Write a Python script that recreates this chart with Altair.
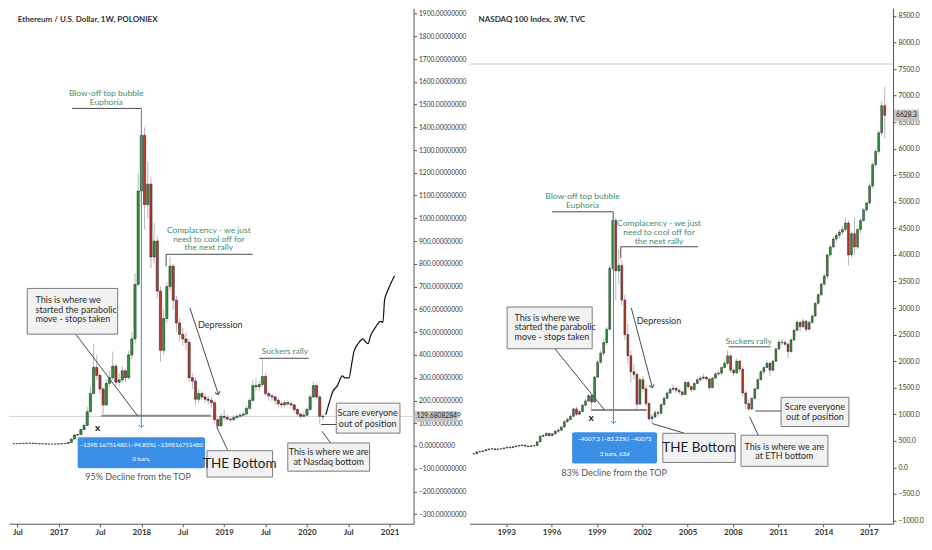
import altair as alt
import pandas as pd

# ---------------- ETH / USD, two-week candles (decimal-year time) ----------------
ETH_START, ETH_STEP = 2016.46, 0.0385
eth_close = [10, 10, 11, 11, 12, 12, 11, 10, 9, 9,
             8, 8, 8, 8, 9, 10, 11, 15, 30, 48,
             50, 72, 90, 150, 230, 345, 310, 250, 180, 275,
             300, 350, 280, 290, 330, 300, 400, 470, 710, 1120,
             1365, 1060, 1150, 830, 900, 680, 420, 560, 700, 790,
             640, 540, 490, 470, 455, 300, 285, 205, 230, 215,
             205, 200, 190, 115, 88, 130, 125, 118, 115, 125,
             130, 135, 140, 165, 200, 265, 260, 270, 305, 230,
             220, 215, 200, 185, 180, 190, 185, 180, 160, 140,
             130, 135, 160, 215, 265, 215, 130, 128]
eth_high = [11, 11, 12, 12, 13, 13, 12, 11, 10, 10,
            9, 9, 9, 9, 10, 11, 12, 17, 33, 52,
            55, 78, 98, 170, 260, 450, 400, 320, 260, 290,
            330, 415, 360, 320, 350, 340, 420, 500, 760, 1200,
            1460, 1400, 1250, 1180, 980, 920, 700, 600, 720, 830,
            800, 660, 560, 520, 500, 470, 320, 300, 250, 240,
            230, 220, 215, 200, 125, 145, 160, 135, 125, 135,
            140, 145, 150, 175, 210, 290, 300, 285, 385, 320,
            240, 230, 225, 210, 195, 200, 200, 195, 185, 165,
            145, 150, 170, 225, 285, 275, 225, 140]
eth_low = [9, 9, 10, 10, 11, 11, 10, 9, 8, 8,
           7, 7, 7, 7, 8, 9, 10, 11, 15, 30,
           42, 48, 70, 88, 150, 230, 290, 230, 140, 175,
           260, 290, 260, 260, 280, 280, 290, 380, 450, 700,
           1050, 950, 1000, 780, 800, 650, 370, 400, 540, 680,
           600, 500, 460, 440, 420, 280, 250, 180, 190, 200,
           190, 180, 170, 100, 75, 85, 110, 110, 105, 110,
           120, 125, 130, 135, 160, 195, 240, 240, 260, 220,
           200, 195, 180, 170, 165, 170, 170, 165, 145, 130,
           120, 125, 130, 155, 210, 205, 95, 110]
eth_last = 129.68082849

# hand-drawn projection curve on the ETH chart (t, value)
curve_t = [2020.23, 2020.28, 2020.31, 2020.37, 2020.43, 2020.46, 2020.51, 2020.54, 2020.57, 2020.62,
           2020.68, 2020.71, 2020.74, 2020.77, 2020.83, 2020.89, 2020.92, 2020.94, 2020.98, 2021.06]
curve_v = [137, 201, 235, 265, 308, 299, 299, 355, 415, 449,
           470, 457, 449, 483, 521, 547, 543, 641, 684, 748]

# ---------------- NASDAQ 100, sampled candles ----------------
NDX_START, NDX_STEP = 1990.85, 0.2
ndx_close = [255, 290, 300, 310, 330, 345, 350, 335, 345, 350,
             365, 380, 370, 390, 400, 410, 420, 400, 390, 405,
             410, 480, 585, 600, 640, 600, 630, 680, 700, 760,
             860, 900, 960, 1100, 1000, 1050, 1170, 1250, 1350, 1230,
             1700, 1980, 2150, 2350, 2600, 3750, 4650, 3700, 3800, 3150,
             2500, 2100, 1800, 1750, 1190, 1650, 1480, 1200, 915, 950,
             1030, 1020, 1180, 1300, 1400, 1470, 1490, 1450, 1420, 1370,
             1600, 1520, 1465, 1580, 1650, 1680, 1700, 1665, 1500, 1680,
             1760, 1775, 1880, 1960, 2100, 1830, 1780, 2000, 1850, 1400,
             1200, 1100, 1300, 1480, 1650, 1800, 1880, 1960, 1830, 2000,
             2230, 2360, 2350, 2320, 2180, 2400, 2580, 2730, 2650, 2750,
             2600, 2730, 2850, 3090, 3250, 3450, 3600, 4000, 4150, 4300,
             4370, 4430, 4480, 4600, 4000, 4400, 4150, 4480, 4650, 4850,
             4980, 5300, 5700, 5950, 6300, 6810, 6628]
ndx_high = [270, 295, 310, 320, 340, 355, 365, 355, 355, 360,
            375, 390, 390, 400, 410, 420, 440, 425, 410, 415,
            420, 490, 600, 620, 660, 650, 650, 700, 730, 780,
            880, 940, 1000, 1130, 1140, 1080, 1200, 1290, 1380, 1360,
            1720, 2020, 2200, 2420, 2650, 3800, 4800, 4700, 4100, 3900,
            3250, 2700, 2200, 1950, 1800, 1700, 1720, 1550, 1230, 1000,
            1080, 1080, 1200, 1330, 1430, 1500, 1560, 1520, 1480, 1440,
            1630, 1620, 1540, 1600, 1690, 1720, 1760, 1730, 1680, 1700,
            1790, 1820, 1900, 2000, 2200, 2120, 1880, 2050, 2030, 1900,
            1450, 1280, 1320, 1500, 1680, 1830, 1900, 2020, 1990, 2030,
            2260, 2400, 2420, 2400, 2350, 2430, 2600, 2780, 2750, 2800,
            2780, 2760, 2880, 3110, 3280, 3480, 3650, 4020, 4180, 4350,
            4420, 4480, 4550, 4700, 4650, 4450, 4700, 4500, 4700, 4880,
            5000, 5350, 5750, 6000, 6350, 6900, 7170]
ndx_low = [245, 250, 285, 295, 305, 325, 335, 320, 330, 335,
           345, 360, 355, 365, 385, 395, 400, 385, 375, 385,
           395, 405, 475, 570, 590, 570, 585, 620, 650, 680,
           750, 840, 880, 950, 960, 980, 1040, 1150, 1230, 1080,
           1220, 1680, 1950, 2100, 2300, 2580, 3700, 3150, 3450, 3050,
           2400, 1950, 1600, 1650, 1100, 1180, 1420, 1150, 880, 825,
           930, 960, 1000, 1170, 1290, 1380, 1440, 1400, 1380, 1330,
           1360, 1480, 1420, 1450, 1560, 1620, 1650, 1630, 1460, 1490,
           1670, 1730, 1740, 1860, 1920, 1780, 1720, 1760, 1800, 1330,
           1100, 1050, 1080, 1280, 1460, 1640, 1750, 1860, 1720, 1800,
           1980, 2210, 2300, 2280, 2050, 2150, 2380, 2560, 2550, 2620,
           2550, 2580, 2700, 2830, 3060, 3230, 3420, 3550, 3950, 4120,
           4250, 4300, 4380, 4450, 3800, 3950, 4000, 4100, 4400, 4620,
           4800, 4950, 5250, 5650, 5900, 6250, 6200]
ndx_last = 6628.3
ndx_ref_level = 7595

# ---------------- annotations (data coordinates) ----------------
eth_segs = [(2017.161, 1483, 2018.0, 1483), (2018.299, 842, 2019.345, 842),
            (2018.299, 842, 2018.299, 790), (2017.207, 491, 2017.954, 132),
            (2018.586, 607, 2018.931, 226), (2018.908, 85, 2019.046, -21),
            (2019.425, 385, 2020.023, 385), (2020.172, 94, 2020.356, 94),
            (2020.184, 64, 2020.287, 13)]
eth_stop = [(2017.517, 132, 2018.839, 132)]
eth_blue = [(2018.0, 1483, 2018.0, 81)]
eth_blue_head = [(2018.0, 81, 0)]
eth_dark_head = [(2018.931, 226, 341)]
eth_note_boxes = [(2016.621, 692, 2017.713, 491), (2018.793, -21, 2019.586, -137),
                  (2020.356, 188, 2021.126, 56), (2019.770, 13, 2020.759, -111)]
eth_blue_boxes = [(2017.230, 38, 2018.770, -98)]
eth_green = [(2017.575, 1551, "Blow-off top bubble"), (2017.575, 1509, "Euphoria"),
             (2018.816, 949, "Complacency - we just"), (2018.816, 910, "need to cool off for"),
             (2018.816, 872, "the next rally"), (2019.736, 419, "Suckers rally")]
eth_note_left = [(2016.72, 641, "This is where we"), (2016.72, 598, "started the parabolic"),
                 (2016.72, 556, "move - stops taken")]
eth_note_center = [(2018.954, 530, "Depression"), (2020.736, 145, "Scare everyone"),
                   (2020.736, 98, "out of position"), (2020.264, -28, "This is where we are"),
                   (2020.264, -70, "at Nasdaq bottom")]
eth_muted = [(2017.96, -137, "95% Decline from the TOP")]
eth_white = [(2018.0, 4, "\u22121398.16751480 (\u221294.85%) \u2212139816751480"), (2018.0, -56, "0 bars,")]
eth_big = [(2019.19, -79, "THE Bottom")]
eth_title = [(2016.506, 1872, "Ethereum / U.S. Dollar, 1W, POLONIEX")]
eth_x = [(2017.471, 77, "x")]

ndx_segs = [(1996.03, 4813, 2000.08, 4813), (2000.58, 4154, 2005.70, 4154),
            (2000.58, 4154, 2000.58, 3935), (1996.22, 2233, 1999.51, 1080),
            (2001.28, 3001, 2002.67, 1501), (2002.67, 824, 2004.81, 641),
            (2007.72, 2269, 2010.50, 2269), (2009.49, 1061, 2011.19, 1061),
            (2009.11, 952, 2009.68, 604)]
ndx_stop = [(1998.62, 1080, 2002.29, 1080)]
ndx_blue = [(2000.10, 4813, 2000.10, 824)]
ndx_blue_head = [(2000.10, 824, 0)]
ndx_dark_head = [(2002.67, 1501, 345)]
ndx_note_boxes = [(1993.06, 3020, 1998.69, 2233), (2003.36, 641, 2008.16, 92),
                  (2011.19, 1318, 2015.68, 769), (2008.54, 604, 2014.29, 18)]
ndx_blue_boxes = [(1997.36, 659, 2002.98, 73)]
ndx_green = [(1998.05, 5106, "Blow-off top bubble"), (1998.05, 4941, "Euphoria"),
             (2003.11, 4593, "Complacency - we just"), (2003.11, 4429, "need to cool off for"),
             (2003.11, 4270, "the next rally"), (2009.05, 2379, "Suckers rally")]
ndx_note_left = [(1993.55, 2818, "This is where we"), (1993.55, 2635, "started the parabolic"),
                 (1993.55, 2452, "move - stops taken")]
ndx_note_center = [(2003.11, 2763, "Depression"), (2013.43, 1135, "Scare everyone"),
                   (2013.43, 952, "out of position"), (2011.41, 390, "This is where we are"),
                   (2011.41, 215, "at ETH bottom")]
ndx_muted = [(2000.14, -110, "83% Decline from the TOP")]
ndx_white = [(2000.17, 531, "\u22124007.3 (\u221283.22%) \u221240073"), (2000.17, 256, "3 bars, 63d")]
ndx_big = [(2005.76, 366, "THE Bottom")]
ndx_title = [(1991.17, 8418, "NASDAQ 100 Index, 3W, TVC")]
ndx_x = [(1998.62, 933, "x")]

# ---------------- helpers ----------------
W1, W2, H = 405, 424, 516
FONT = "Lato"
GREEN_TXT = "#3f8d6a"
BLUE = "#3b8fe6"
ARROW = "M -1 -1 L 0 0 L 1 -1"


def candles(start, step, close, high, low):
    rows = []
    for i, c in enumerate(close):
        o = close[i - 1] if i > 0 else c
        rows.append(dict(t=start + step * i, o=o, c=c, h=high[i], l=low[i],
                         dir="up" if c >= o else "down"))
    return pd.DataFrame(rows)


def panel(df, xs, ys, xaxis, yaxis, W, body_w, ref_level, segs, stop, blue, bhead, dhead,
          note_boxes, blue_boxes, green, note_left, note_center, muted, white, big, title, xmark,
          last, last_txt, label_w, extra=None):
    def X(f):
        return alt.X(f, type="quantitative", scale=xs, axis=xaxis, title=None)

    def Y(f):
        return alt.Y(f, type="quantitative", scale=ys, axis=yaxis, title=None)

    def seg_layer(rows, color, width):
        d = pd.DataFrame(rows, columns=["t1", "v1", "t2", "v2"])
        return alt.Chart(d).mark_rule(color=color, strokeWidth=width).encode(
            x=X("t1"), y=Y("v1"), x2="t2:Q", y2="v2:Q")

    def box_layer(rows, fill, stroke):
        d = pd.DataFrame(rows, columns=["t1", "v1", "t2", "v2"])
        kw = dict(fill=fill)
        if stroke:
            kw.update(stroke=stroke, strokeWidth=1)
        else:
            kw.update(cornerRadius=2)
        return alt.Chart(d).mark_rect(**kw).encode(x=X("t1"), y=Y("v1"), x2="t2:Q", y2="v2:Q")

    def head_layer(rows, color):
        d = pd.DataFrame(rows, columns=["t", "v", "a"])
        return alt.Chart(d).mark_point(shape=ARROW, filled=False, size=30, strokeWidth=1,
                                       color=color, opacity=1).encode(
            x=X("t"), y=Y("v"), angle=alt.Angle("a:Q", scale=None))

    def text_layer(rows, **kw):
        d = pd.DataFrame(rows, columns=["t", "v", "label"])
        kw.setdefault("font", FONT)
        return alt.Chart(d).mark_text(baseline="middle", **kw).encode(
            x=X("t"), y=Y("v"), text="label:N")

    ref = alt.Chart(pd.DataFrame({"v": [ref_level]})).mark_rule(
        color="#d2d2d2", strokeWidth=1).encode(y=Y("v"))
    wick = alt.Chart(df).mark_rule(color="#b8b8b8", strokeWidth=1).encode(
        x=X("t"), y=Y("l"), y2="h:Q")
    body = alt.Chart(df).mark_bar(size=body_w, stroke="#161616", strokeWidth=0.5).encode(
        x=X("t"), y=Y("o"), y2="c:Q",
        color=alt.Color("dir:N", scale=alt.Scale(domain=["up", "down"],
                                                 range=["#2f9a3c", "#c0392b"]), legend=None))
    layers = [ref, wick, body,
              seg_layer(stop, "#8a8a8a", 2),
              seg_layer(segs, "#4a4a4a", 1),
              seg_layer(blue, BLUE, 1),
              head_layer(bhead, BLUE),
              head_layer(dhead, "#4a4a4a"),
              box_layer(note_boxes, "#f2f2f2", "#7a7a7a"),
              box_layer(blue_boxes, BLUE, None),
              text_layer(green, fontSize=8.5, color=GREEN_TXT, align="center"),
              text_layer(note_left, fontSize=9, color="#2b2b2b", align="left"),
              text_layer(note_center, fontSize=9, color="#2b2b2b", align="center"),
              text_layer(muted, fontSize=9, color="#555555", align="center"),
              text_layer(white, fontSize=6.1, color="#ffffff", align="center"),
              text_layer(big, fontSize=13.5, color="#1e1e1e", align="center"),
              text_layer(title, fontSize=8, color="#333333", align="left", fontWeight="bold"),
              text_layer(xmark, fontSize=10, color="#111111", align="center", fontWeight="bold")]
    if extra is not None:
        layers.append(extra(X, Y))
    pl = pd.DataFrame({"v1": [last[0]], "v2": [last[1]], "vm": [last[2]], "label": [last_txt]})
    layers.append(alt.Chart(pl).mark_rect(fill="#c4c4c4").encode(
        x=alt.value(W + 1), x2=alt.value(W + label_w), y=Y("v1"), y2="v2:Q"))
    layers.append(alt.Chart(pl).mark_text(font=FONT, fontSize=6.7, color="#222222",
                                          align="left", baseline="middle").encode(
        x=alt.value(W + 3), y=Y("vm"), text="label:N"))
    return alt.layer(*layers).properties(width=W, height=H)


axis_style = dict(labelFont=FONT, labelColor="#333333", tickColor="#555555",
                  tickSize=3, domainColor="#555555", grid=False, labelPadding=2,
                  labelOverlap=False)

# ----- ETH panel -----
eth_df = candles(ETH_START, ETH_STEP, eth_close, eth_high, eth_low)
eth_xs = alt.Scale(domain=[2016.46, 2021.23], nice=False, zero=False)
eth_ys = alt.Scale(domain=[-342, 1923], nice=False, zero=False)
eth_xaxis = alt.Axis(values=[2016.5, 2017, 2017.5, 2018, 2018.5, 2019, 2019.5, 2020, 2020.5, 2021],
                     labelExpr="datum.value % 1 == 0 ? format(datum.value, 'd') : 'Jul'",
                     labelFontWeight="bold", labelFontSize=8, labelFlush=False, **axis_style)
eth_yaxis = alt.Axis(orient="right", values=list(range(-300, 2000, 100)), format=".8f",
                     labelFontSize=6.6, **axis_style)
curve_df = pd.DataFrame({"t": curve_t, "v": curve_v})


def eth_curve(X, Y):
    return alt.Chart(curve_df).mark_line(color="#111111", strokeWidth=1.2,
                                         interpolate="monotone").encode(x=X("t"), y=Y("v"))


eth_panel = panel(eth_df, eth_xs, eth_ys, eth_xaxis, eth_yaxis, W1, 2.2, eth_last,
                  eth_segs, eth_stop, eth_blue, eth_blue_head, eth_dark_head,
                  eth_note_boxes, eth_blue_boxes, eth_green, eth_note_left, eth_note_center,
                  eth_muted, eth_white, eth_big, eth_title, eth_x,
                  (eth_last - 24, eth_last + 24, eth_last), "129.68082849", 44, extra=eth_curve)

# ----- NASDAQ panel -----
ndx_df = candles(NDX_START, NDX_STEP, ndx_close, ndx_high, ndx_low)
ndx_xs = alt.Scale(domain=[1990.9, 2018.27], nice=False, zero=False)
ndx_ys = alt.Scale(domain=[-1062, 8645], nice=False, zero=False)
ndx_xaxis = alt.Axis(values=[1993, 1996, 1999, 2002, 2005, 2008, 2011, 2014, 2017], format="d",
                     labelFontWeight="bold", labelFontSize=8, labelFlush=False, **axis_style)
ndx_yaxis = alt.Axis(orient="right", values=list(range(-1000, 9000, 500)), format=".1f",
                     labelFontSize=6.8, **axis_style)
ndx_panel = panel(ndx_df, ndx_xs, ndx_ys, ndx_xaxis, ndx_yaxis, W2, 1.8, ndx_ref_level,
                  ndx_segs, ndx_stop, ndx_blue, ndx_blue_head, ndx_dark_head,
                  ndx_note_boxes, ndx_blue_boxes, ndx_green, ndx_note_left, ndx_note_center,
                  ndx_muted, ndx_white, ndx_big, ndx_title, ndx_x,
                  (ndx_last - 110, ndx_last + 110, ndx_last), "6628.3", 26)

chart = alt.hconcat(eth_panel, ndx_panel, spacing=2).properties(
    padding=0, background="#ffffff").configure_view(stroke=None)

chart.save("out.html", embed_options={"renderer": "svg", "actions": False})
